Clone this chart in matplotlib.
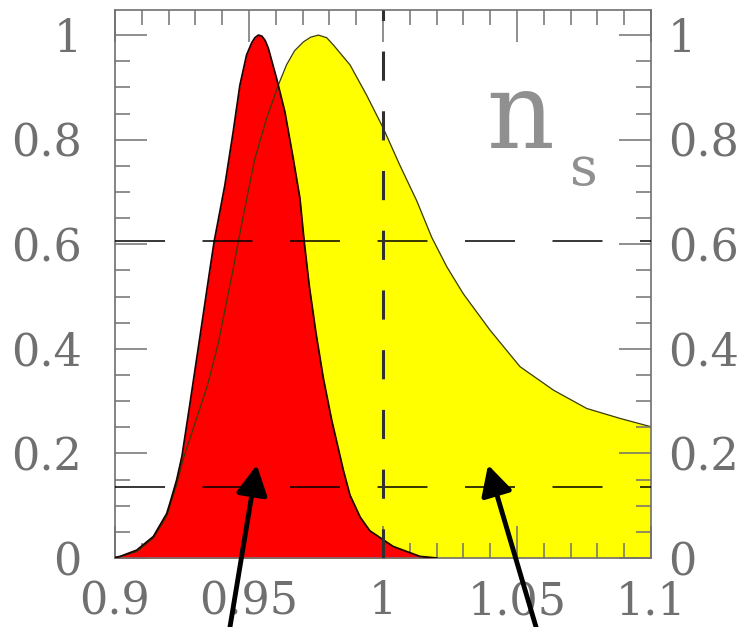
import matplotlib
matplotlib.use("Agg")
import matplotlib.pyplot as plt
from matplotlib.ticker import MultipleLocator

plt.rcParams['font.family'] = ['DejaVu Serif']
plt.rcParams['lines.scale_dashes'] = False

# red likelihood curve
red_x = [0.9000, 0.9019, 0.9081, 0.9143, 0.9193, 0.9205, 0.9230, 0.9250, 0.9280,
         0.9317, 0.9354, 0.9370, 0.9410, 0.9441, 0.9466, 0.9491, 0.9510, 0.9522,
         0.9535, 0.9548, 0.9560, 0.9572, 0.9603, 0.9634, 0.9665, 0.9690, 0.9706,
         0.9725, 0.9750, 0.9777, 0.9808, 0.9852, 0.9877, 0.9915, 0.9951, 1.0038,
         1.0138, 1.0200]
red_y = [0.001, 0.003, 0.015, 0.041, 0.085, 0.105, 0.149, 0.195, 0.296,
         0.423, 0.551, 0.605, 0.713, 0.815, 0.904, 0.962, 0.985, 0.995,
         1.000, 0.998, 0.990, 0.975, 0.917, 0.853, 0.764, 0.688, 0.605,
         0.520, 0.430, 0.345, 0.265, 0.168, 0.120, 0.078, 0.052, 0.022,
         0.003, 0.000]

# yellow likelihood curve
yel_x = [0.9000, 0.9081, 0.9143, 0.9193, 0.9230, 0.9255, 0.9300, 0.9345, 0.9385,
         0.9420, 0.9440, 0.9460, 0.9492, 0.9522, 0.9566, 0.9609, 0.9640, 0.9670,
         0.9703, 0.9730, 0.9759, 0.9790, 0.9815, 0.9877, 0.9939, 1.0001, 1.0063,
         1.0126, 1.0182, 1.0238, 1.0300, 1.0399, 1.0511, 1.0636, 1.0760, 1.0884,
         1.1000]
yel_y = [0.000, 0.012, 0.038, 0.080, 0.140, 0.190, 0.260, 0.330, 0.410,
         0.500, 0.550, 0.605, 0.688, 0.764, 0.841, 0.904, 0.943, 0.970,
         0.987, 0.996, 1.000, 0.995, 0.981, 0.943, 0.885, 0.822, 0.751,
         0.683, 0.613, 0.557, 0.505, 0.436, 0.366, 0.321, 0.286, 0.267,
         0.251]

levels = [0.607, 0.135]  # 1 and 2 sigma lines
x_ticks = [0.9, 0.95, 1.0, 1.05, 1.1]
x_labels = ['0.9', '0.95', '1', '1.05', '1.1']
y_ticks = [0, 0.2, 0.4, 0.6, 0.8, 1.0]
y_labels = ['0', '0.2', '0.4', '0.6', '0.8', '1']

grey = '#707070'

fig = plt.figure(figsize=(7.46, 6.27), dpi=100)
ax = fig.add_axes([115/746, 1-558/627, 536/746, 548/627])

ax.fill_between(yel_x, yel_y, color='#ffff00', lw=0, zorder=1)
ax.fill_between(red_x, red_y, color='#ff0000', lw=0, zorder=2)
ax.plot(yel_x, yel_y, color='#3a3a00', lw=0.9, zorder=3)
ax.plot(red_x, red_y, color='#200000', lw=1.3, zorder=3)

for lv in levels:
    ax.axhline(lv, color='black', lw=1.1, dashes=(36, 27), zorder=4)
ax.axvline(1.0, color='#303030', lw=2.2, dashes=(21, 22), zorder=4)

ax.set_xlim(0.9, 1.1)
ax.set_ylim(0, 1.048)
ax.set_xticks(x_ticks)
ax.set_xticklabels(x_labels)
ax.set_yticks(y_ticks)
ax.set_yticklabels(y_labels)
ax.xaxis.set_minor_locator(MultipleLocator(0.01))
ax.yaxis.set_minor_locator(MultipleLocator(0.05))

for sp in ax.spines.values():
    sp.set_color(grey)
    sp.set_linewidth(1.2)

ax.tick_params(which='both', direction='in', top=True, right=False,
               color=grey, width=1.1, labelsize=32, labelcolor=grey)
ax.tick_params(which='major', length=23)
ax.tick_params(which='minor', length=11)
ax.tick_params(axis='y', pad=24)
ax.tick_params(axis='x', pad=16)

ax2 = ax.twinx()
ax2.set_ylim(0, 1.048)
ax2.set_yticks(y_ticks)
ax2.set_yticklabels(y_labels)
ax2.yaxis.set_minor_locator(MultipleLocator(0.05))
ax2.tick_params(which='both', direction='in', color=grey, width=1.1,
                labelsize=32, labelcolor=grey, pad=12)
ax2.tick_params(which='major', length=23)
ax2.tick_params(which='minor', length=11)
for sp in ax2.spines.values():
    sp.set_visible(False)

ax.text(1.0384, 0.784, 'n', fontsize=76, color='#909090', ha='left', va='baseline')
ax.text(1.0698, 0.713, 's', fontsize=39, color='#909090', ha='left', va='baseline')

arrow = dict(arrowstyle='-|>,head_length=1.8,head_width=0.95', color='black', lw=3.5,
             shrinkA=0, shrinkB=0)
ax.annotate('', xy=(0.9529, 0.178), xytext=(0.9429, -0.132), arrowprops=arrow,
            annotation_clip=False, zorder=6)
ax.annotate('', xy=(1.0392, 0.178), xytext=(1.0571, -0.132), arrowprops=arrow,
            annotation_clip=False, zorder=6)

fig.savefig('out.png', dpi=100)
